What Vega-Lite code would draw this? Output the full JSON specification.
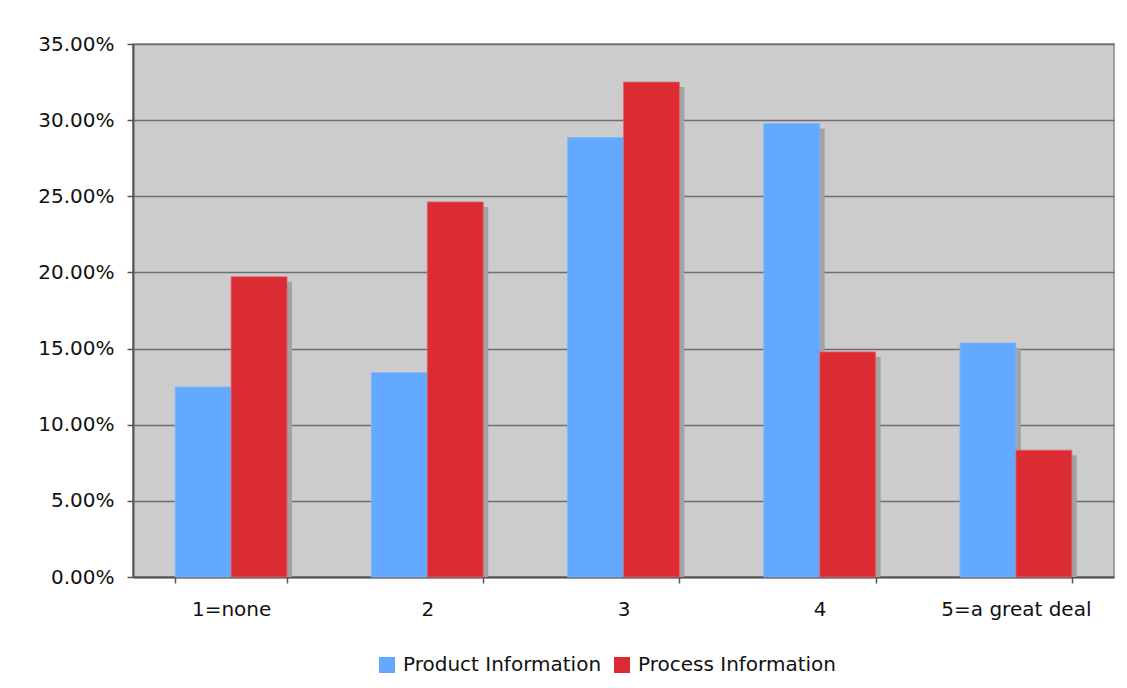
{
  "$schema": "https://vega.github.io/schema/vega-lite/v6.json",
  "width": 981,
  "height": 533,
  "autosize": {"type": "none"},
  "padding": {"left": 133, "top": 44, "right": 13, "bottom": 111},
  "background": "#ffffff",
  "data": {
    "values": [
      {"level": "1=none", "series": "Product Information", "share": 0.1248},
      {"level": "1=none", "series": "Process Information", "share": 0.1972},
      {"level": "2", "series": "Product Information", "share": 0.1342},
      {"level": "2", "series": "Process Information", "share": 0.2463},
      {"level": "3", "series": "Product Information", "share": 0.2886},
      {"level": "3", "series": "Process Information", "share": 0.325},
      {"level": "4", "series": "Product Information", "share": 0.2978},
      {"level": "4", "series": "Process Information", "share": 0.1478},
      {"level": "5=a great deal", "series": "Product Information", "share": 0.1536},
      {"level": "5=a great deal", "series": "Process Information", "share": 0.0833}
    ]
  },
  "encoding": {
    "x": {
      "field": "level",
      "type": "nominal",
      "sort": ["1=none", "2", "3", "4", "5=a great deal"],
      "scale": {"paddingInner": 0.43, "paddingOuter": 0.215},
      "axis": {
        "title": null,
        "labelAngle": 0,
        "tickBand": "extent",
        "tickSize": 6,
        "tickColor": "#555555",
        "tickWidth": 1.5,
        "labelPadding": 16,
        "labelFontSize": 20,
        "labelColor": "#111111",
        "domainColor": "#555555",
        "domainWidth": 2,
        "grid": false
      }
    }
  },
  "layer": [
    {
      "mark": {"type": "bar", "color": "#a2a2a2", "clip": true},
      "encoding": {
        "xOffset": {
          "field": "series",
          "type": "nominal",
          "sort": ["Product Information", "Process Information"],
          "scale": {"range": [5, 116.8]}
        },
        "y": {
          "field": "share",
          "type": "quantitative",
          "scale": {"domain": [0, 0.35], "nice": false, "range": [538, 5]},
          "axis": null
        }
      }
    },
    {
      "mark": {"type": "bar", "strokeWidth": 1, "strokeOpacity": 0.8},
      "encoding": {
        "xOffset": {
          "field": "series",
          "type": "nominal",
          "sort": ["Product Information", "Process Information"]
        },
        "y": {
          "field": "share",
          "type": "quantitative",
          "scale": {"domain": [0, 0.35], "nice": false},
          "axis": {
            "title": null,
            "format": ".2%",
            "values": [0, 0.05, 0.1, 0.15, 0.2, 0.25, 0.3, 0.35],
            "tickSize": 6,
            "tickColor": "#555555",
            "tickWidth": 1.5,
            "labelPadding": 13,
            "labelFontSize": 20,
            "labelColor": "#111111",
            "domainColor": "#555555",
            "domainWidth": 2,
            "grid": true,
            "gridColor": "#6e6e6e",
            "gridWidth": 1.3
          }
        },
        "color": {
          "field": "series",
          "type": "nominal",
          "sort": ["Product Information", "Process Information"],
          "scale": {
            "domain": ["Product Information", "Process Information"],
            "range": ["#63a9ff", "#dc2c33"]
          },
          "legend": {
            "title": null,
            "orient": "none",
            "direction": "horizontal",
            "legendX": 244,
            "legendY": 611,
            "symbolType": "square",
            "symbolSize": 256,
            "symbolStrokeWidth": 0,
            "symbolOpacity": 1,
            "labelFontSize": 20,
            "labelColor": "#111111",
            "labelOffset": 6,
            "labelLimit": 0,
            "columnPadding": 10
          }
        },
        "stroke": {
          "field": "series",
          "type": "nominal",
          "scale": {
            "domain": ["Product Information", "Process Information"],
            "range": ["#7ab6ff", "#e4646a"]
          },
          "legend": null
        }
      }
    }
  ],
  "resolve": {"scale": {"y": "independent", "xOffset": "independent"}},
  "config": {
    "font": "DejaVu Sans",
    "view": {"fill": "#cccccc", "stroke": "#8a8a8a", "strokeWidth": 1.5}
  }
}
